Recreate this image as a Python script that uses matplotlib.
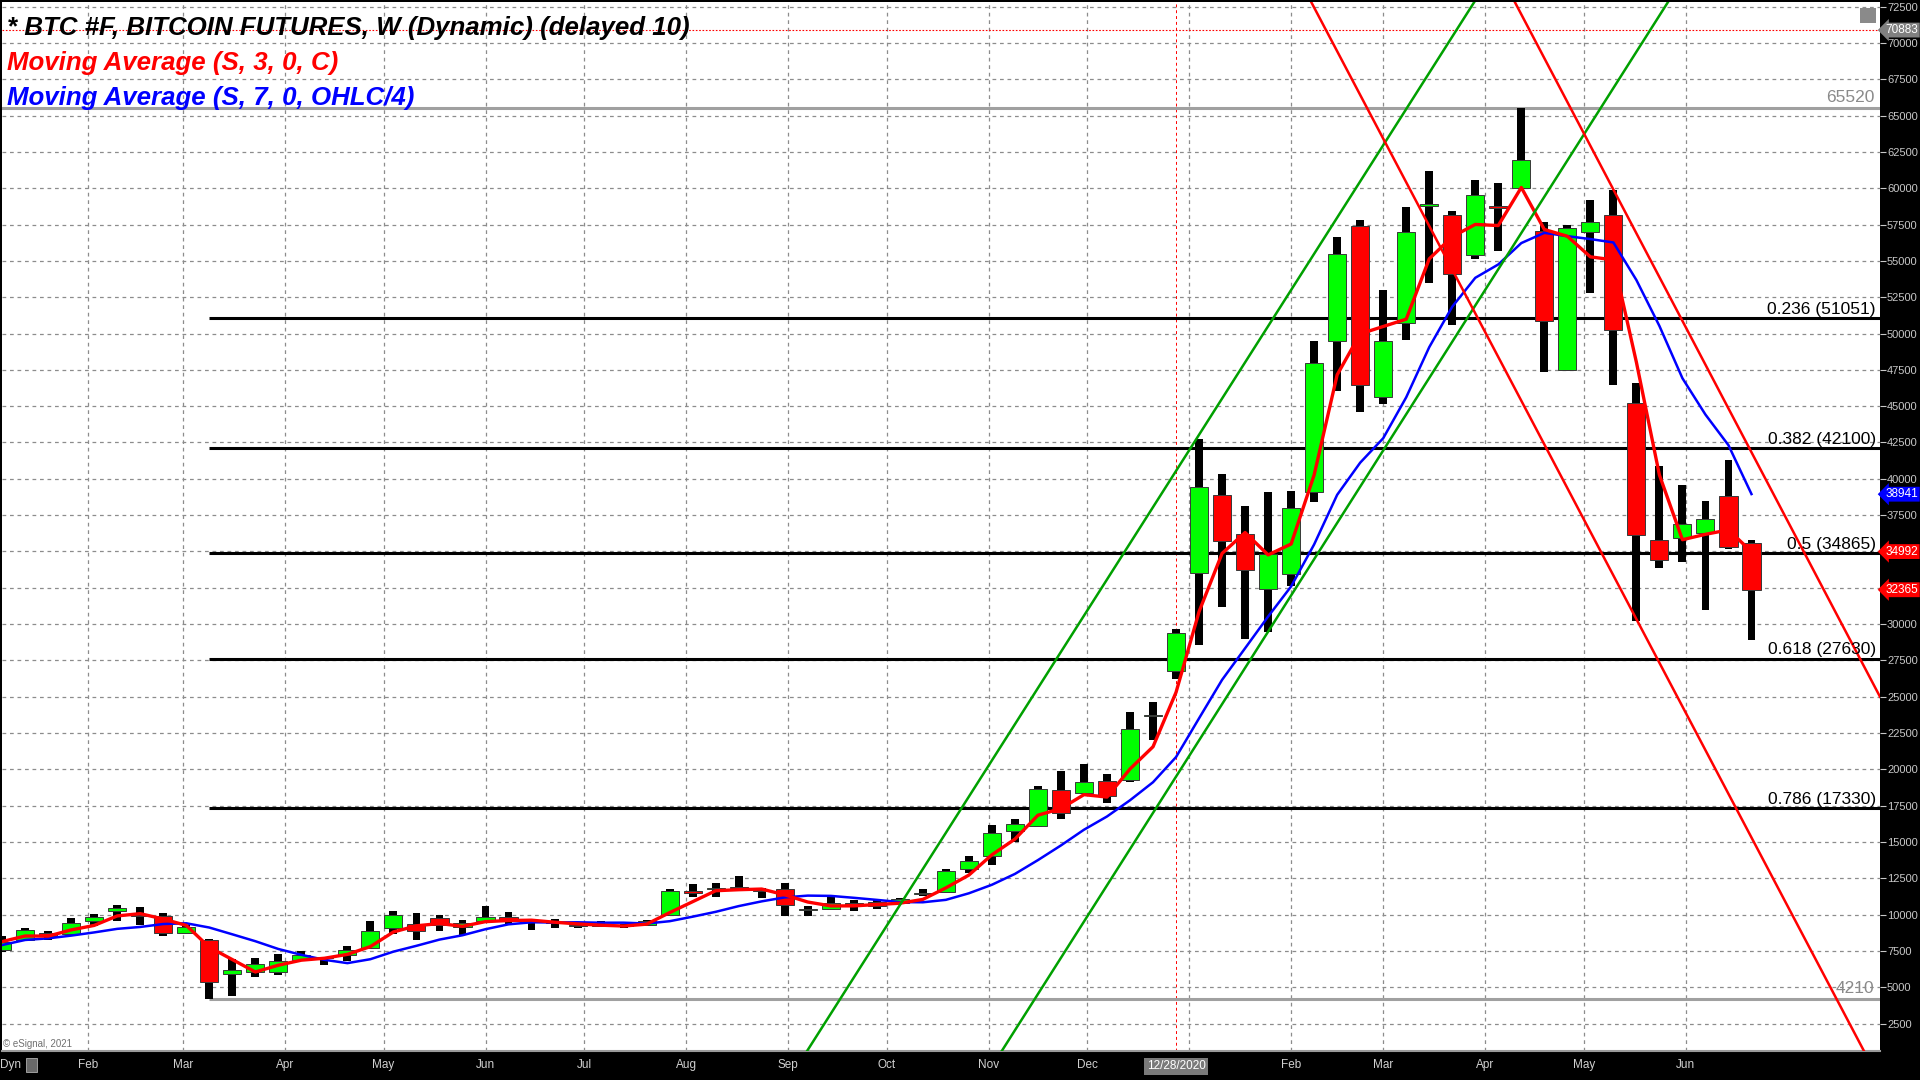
import matplotlib
matplotlib.use("Agg")
import matplotlib.pyplot as plt
import matplotlib.dates as mdates
from matplotlib.patches import Rectangle
import numpy as np
import pandas as pd

# weekly BTC futures candles (week starting Monday)
weeks = pd.date_range("2020-01-06", "2021-06-21", freq="W-MON")

opens = [7550, 8280, 8740, 8690, 9550, 10280, 10010, 9940, 8740, 8280,
         5920, 6080, 6080, 6890, 7050, 7240, 7700, 9080, 9360, 9780,
         9150, 9550, 9820, 9560, 9430, 9320, 9250, 9250, 9270, 10010,
         11600, 11780, 11900, 11700, 11740, 10300, 10400, 10820, 10860, 10815,
         11400, 11560, 13155, 14030, 15750, 16090, 18615, 18390, 19190, 19260,
         23650, 26800, 33540, 38910, 36190, 32410, 33420, 39100, 49510, 57390,
         45610, 50700, 58800, 58150, 55400, 58700, 60030, 57060, 47470, 57000,
         58150, 45240, 35820, 35960, 36300, 38850, 35550]
highs = [8550, 9080, 8850, 9780, 10050, 10700, 10520, 10120, 9300, 8300,
         6940, 7010, 7280, 7520, 7120, 7880, 9590, 10240, 10120, 10010,
         9660, 10590, 10170, 9660, 9730, 9380, 9550, 9380, 9660, 11740,
         12085, 12150, 12660, 11850, 12200, 10590, 11230, 10980, 11090, 11160,
         11740, 13120, 14070, 16160, 16620, 18840, 19880, 20340, 19650, 23940,
         24650, 29670, 42770, 40360, 38130, 39100, 39170, 49470, 56610, 57790,
         52990, 58690, 61200, 58400, 60540, 60360, 65520, 57690, 57490, 59220,
         59850, 46560, 40860, 39540, 38440, 41290, 35780]
lows = [7400, 8160, 8280, 8620, 9200, 9550, 9320, 8510, 8690, 4210,
        4400, 5690, 5850, 6850, 6550, 6780, 7620, 8690, 8280, 8850,
        8620, 9430, 9320, 8970, 9080, 9080, 9130, 9080, 9200, 9980,
        11230, 11230, 11620, 11160, 9940, 9940, 10350, 10280, 10420, 10750,
        11320, 11510, 12880, 13410, 14990, 16050, 16600, 18300, 17700, 19100,
        21990, 26230, 28570, 31180, 29000, 29470, 32600, 38390, 46040, 44620,
        45180, 49580, 53450, 50570, 55100, 55710, 59950, 47350, 47400, 52810,
        46430, 30240, 33840, 34290, 30990, 35140, 28890]
closes = [8150, 8920, 8510, 9430, 9850, 10470, 9900, 8740, 9150, 5390,
          6200, 6590, 6780, 7240, 6990, 7580, 8850, 10010, 8850, 9320,
          9430, 9820, 9550, 9500, 9400, 9200, 9240, 9220, 9590, 11620,
          11480, 11850, 11830, 11620, 10650, 10350, 10820, 10650, 10630, 11090,
          11440, 13010, 13730, 15630, 16250, 18660, 17010, 19120, 18160, 22810,
          23710, 29400, 39460, 35740, 33710, 34840, 37990, 47980, 55500, 46440,
          49510, 57010, 58890, 54080, 59550, 58660, 61940, 50880, 57260, 57690,
          50240, 36140, 34410, 36870, 37260, 35320, 32365]

fib_ratios = ["0.236", "0.382", "0.5", "0.618", "0.786"]
fib_levels = [51051, 42100, 34865, 27630, 17330]
swing_high = 65520
swing_low = 4210
swing_low_week = "2020-03-09"
last_line = 70883
marker_date = "2020-12-28"

# hand drawn channels: (date1, price1, date2, price2)
green_channel = [("2020-09-06 19:00", 620, "2021-03-29 02:00", 72950),
                 ("2020-11-05 00:00", 620, "2021-05-27 00:00", 72950)]
red_channel = [("2021-02-06 19:00", 72950, "2021-07-25 05:00", 620),
               ("2021-04-09 17:00", 72950, "2021-07-30 02:00", 25000)]

# price tags on the right scale
tags = [(70883, "#808080"), (38941, "#0000ff"), (34992, "#ff0000"), (32365, "#ff0000")]

month_ticks = pd.date_range("2020-02-01", "2021-06-01", freq="MS")
month_labels = [d.strftime("%b") for d in month_ticks]
month_labels[11] = ""  # Jan 2021 hidden behind the date marker

ohlc = pd.DataFrame({"open": opens, "high": highs, "low": lows, "close": closes},
                    index=weeks, dtype=float)
ma3 = ohlc["close"].rolling(3, min_periods=1).mean()
ma7 = ohlc[["open", "high", "low", "close"]].mean(axis=1).rolling(7, min_periods=1).mean()

W, H = 1920, 1080
fig = plt.figure(figsize=(19.2, 10.8), dpi=100, facecolor="black")
ax = fig.add_axes([2 / W, 29 / H, 1878 / W, 1049 / H])
ax.set_facecolor("white")

x = mdates.date2num(ohlc.index)
xmin = mdates.date2num(pd.Timestamp("2020-01-05 23:00"))
xmax = mdates.date2num(pd.Timestamp("2021-07-30 02:00"))
ax.set_xlim(xmin, xmax)
ax.set_ylim(620, 72815)

# grid
ax.set_yticks(np.arange(2500, 72501, 2500))
ax.set_xticks(mdates.date2num(month_ticks))
ax.set_xticklabels(month_labels)
ax.grid(True, color="#8c8c8c", linestyle=(0, (3, 3)), linewidth=0.9, zorder=0)
ax.set_axisbelow(True)

ax.yaxis.tick_right()
ax.tick_params(axis="y", colors="#c8c8c8", labelsize=8, length=4, width=0.8, pad=1)
ax.tick_params(axis="x", colors="#d0d0d0", labelsize=8.5, length=0, pad=6)
for lab in ax.get_xticklabels() + ax.get_yticklabels():
    lab.set_fontfamily("Liberation Sans")
for s in ["top", "left", "right"]:
    ax.spines[s].set_visible(False)
ax.spines["bottom"].set_color("#9a9a9a")
ax.spines["bottom"].set_linewidth(1.5)

# fib / swing lines
x_low = mdates.date2num(pd.Timestamp(swing_low_week))
ax.hlines(fib_levels, x_low, xmax, color="black", linewidth=2.2, zorder=2)
ax.axhline(swing_high, color="#a0a0a0", linewidth=2.2, zorder=2)
ax.hlines(swing_low, x_low, xmax, color="#a0a0a0", linewidth=2.2, zorder=2)
ax.axhline(last_line, color="red", linestyle=(0, (1.5, 1.5)), linewidth=0.8, zorder=2)
ax.axvline(mdates.date2num(pd.Timestamp(marker_date)), color="red",
           linestyle=(0, (3, 3)), linewidth=0.7, zorder=1)

for r, lv in zip(fib_ratios, fib_levels):
    ax.annotate(f"{r} ({lv})", xy=(1, lv), xycoords=("axes fraction", "data"),
                xytext=(-3, 1), textcoords="offset points", ha="right", va="bottom",
                fontsize=12.5, fontfamily="Liberation Sans", color="black", zorder=7)
for lv in [swing_high, swing_low]:
    ax.annotate(f"{lv}", xy=(1, lv), xycoords=("axes fraction", "data"),
                xytext=(-4, 2), textcoords="offset points", ha="right", va="bottom",
                fontsize=12.5, fontfamily="Liberation Sans", color="#8a8a8a", zorder=7)

# candles
o = ohlc["open"].values
c = ohlc["close"].values
body_lo = np.minimum(o, c)
body_h = np.maximum(np.abs(c - o), 90)
colors = np.where(c >= o, "#00ff00", "#ff0000")
ax.bar(x, ohlc["high"] - ohlc["low"], bottom=ohlc["low"], width=2.4,
       color="black", zorder=3)
ax.bar(x, body_h, bottom=body_lo, width=5.5, color=colors,
       edgecolor="#383838", linewidth=0.7, zorder=4)

# moving averages
ax.plot(x, ma7, color="#0000ff", linewidth=1.8, zorder=5)
ax.plot(x, ma3, color="#ff0000", linewidth=2.4, zorder=5)

# channels
for d1, p1, d2, p2 in green_channel:
    ax.axline((mdates.date2num(pd.Timestamp(d1)), p1),
              (mdates.date2num(pd.Timestamp(d2)), p2), color="#00a000", linewidth=1.8, zorder=6)
for d1, p1, d2, p2 in red_channel:
    ax.axline((mdates.date2num(pd.Timestamp(d1)), p1),
              (mdates.date2num(pd.Timestamp(d2)), p2), color="#ff0000", linewidth=1.8, zorder=6)

# price tags on the right axis
for val, col in tags:
    ax.annotate(f"{val}", xy=(1, val), xycoords=("axes fraction", "data"),
                xytext=(4, 0), textcoords="offset points", ha="left", va="center",
                fontsize=8.5, fontfamily="Liberation Sans", color="white",
                bbox=dict(boxstyle="larrow,pad=0.12", fc=col, ec="none"),
                annotation_clip=False, zorder=8)

# date marker on the time scale
ax.annotate("12/28/2020", xy=(mdates.date2num(pd.Timestamp(marker_date)), 0),
            xycoords=("data", "axes fraction"), xytext=(0, -11), textcoords="offset points",
            ha="center", va="center", fontsize=8.5, fontfamily="Liberation Sans", color="white",
            bbox=dict(boxstyle="square,pad=0.2", fc="#7a7a7a", ec="none"),
            annotation_clip=False)

# header
hdr = [("* BTC #F, BITCOIN FUTURES, W (Dynamic) (delayed 10)", "black", 35),
       ("Moving Average (S, 3, 0, C)", "#ff0000", 70),
       ("Moving Average (S, 7, 0, OHLC/4)", "#0000ff", 105)]
for txt, col, yb in hdr:
    fig.text(7 / W, 1 - yb / H, txt, color=col, fontsize=18.6, fontweight="bold",
             fontstyle="italic", fontfamily="Liberation Sans", va="baseline", ha="left")

fig.text(3 / W, 1 - 1044 / H, "\u00a9 eSignal, 2021", color="#707070", fontsize=7,
         fontfamily="Liberation Sans", va="center", ha="left")
fig.text(0, 1 - 1065 / H, "Dyn", color="#d0d0d0", fontsize=8.5,
         fontfamily="Liberation Sans", va="center", ha="left")
fig.add_artist(Rectangle((26 / W, 1 - 1072 / H), 11 / W, 14 / H, transform=fig.transFigure,
                         fc="#6a6a6a", ec="#b0b0b0", lw=0.6))
fig.add_artist(Rectangle((1860 / W, 1 - 23 / H), 16 / W, 15 / H, transform=fig.transFigure,
                         fc="#8a8a8a", ec="none"))

fig.savefig("out.png", dpi=100, facecolor="black")
